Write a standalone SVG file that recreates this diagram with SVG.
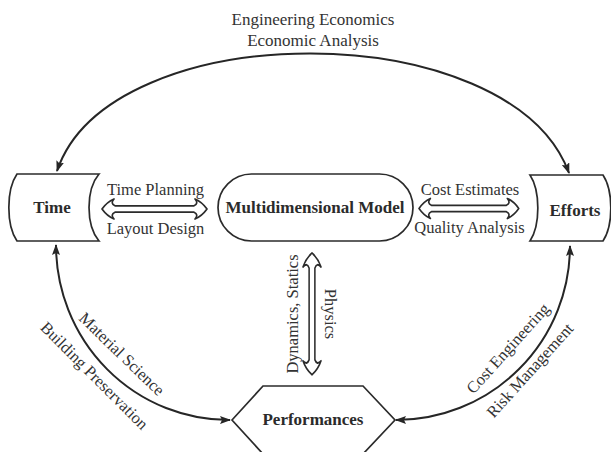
<svg xmlns="http://www.w3.org/2000/svg" width="611" height="452" viewBox="0 0 611 452">
  <style>
    .node { fill: #fff; stroke: #2b2b2b; stroke-width: 1.7; }
    .link { fill: none; stroke: #262626; stroke-width: 2; }
    .block { fill: #fff; stroke: #2b2b2b; stroke-width: 1.7; stroke-linejoin: round; }
    .lbl { font-family: "Liberation Serif", "Times New Roman", serif; font-size: 16.5px; fill: #333; }
    .title { font-family: "Liberation Serif", "Times New Roman", serif; font-size: 17px; font-weight: bold; fill: #2b2b2b; text-anchor: middle; }
    .mid { text-anchor: middle; }
  </style>
  <defs>
    <marker id="head" viewBox="0 0 11 8" refX="10" refY="4" markerWidth="11" markerHeight="8" markerUnits="userSpaceOnUse" orient="auto-start-reverse">
      <path d="M0,0 L11,4 L0,8 L2,4 Z" fill="#262626"/>
    </marker>
    <!-- hollow double-headed block arrow, 105 long, centred on the x axis -->
    <path id="dbl" d="M0,0 Q5,-7 12,-10 Q8,-5.5 13,-3.2 L92,-3.2 Q97,-5.5 93,-10 Q100,-7 105,0 Q100,7 93,10 Q97,5.5 92,3.2 L13,3.2 Q8,5.5 12,10 Q5,7 0,0 Z"/>
  </defs>

  <!-- connectors -->
  <g id="connectors">
    <path class="link" d="M57,171 C110,14 510,14 569,173" marker-start="url(#head)" marker-end="url(#head)"/>
    <path class="link" d="M56,245 A173,175 0 0 0 230,420" marker-start="url(#head)" marker-end="url(#head)"/>
    <path class="link" d="M570,246 A174,174 0 0 1 396,420" marker-start="url(#head)" marker-end="url(#head)"/>
    <use href="#dbl" class="block" transform="translate(102,209)"/>
    <use href="#dbl" class="block" transform="translate(419,208.5) scale(0.95,1)"/>
    <use href="#dbl" class="block" transform="translate(312,253) rotate(90) scale(1.16,0.9)"/>
  </g>

  <!-- connector labels -->
  <g id="labels" class="lbl">
    <text class="mid" x="313" y="25" style="font-size:17px">Engineering Economics</text>
    <text class="mid" x="313" y="45.5" style="font-size:17px">Economic Analysis</text>
    <text class="mid" x="155.5" y="194.5">Time Planning</text>
    <text class="mid" x="155.5" y="234">Layout Design</text>
    <text class="mid" x="470" y="194.5">Cost Estimates</text>
    <text class="mid" x="469.5" y="233">Quality Analysis</text>
    <text class="mid" transform="translate(298,314) rotate(-90)">Dynamics, Statics</text>
    <text class="mid" transform="translate(324.5,314) rotate(90)">Physics</text>
    <text class="mid" transform="translate(118,358) rotate(44)">Material Science</text>
    <text class="mid" transform="translate(90.5,379.5) rotate(45)">Building Preservation</text>
    <text class="mid" transform="translate(512,352) rotate(-48)">Cost Engineering</text>
    <text class="mid" transform="translate(534,374) rotate(-48)">Risk Management</text>
  </g>

  <g id="time">
    <path class="node" d="M17,174 L99,174 A22,40 0 0 0 99,241 L17,241 A18,40 0 0 1 17,174 Z"/>
    <text class="title" x="52" y="213">Time</text>
  </g>

  <g id="efforts">
    <path class="node" d="M530,175 L603,175 A18,40 0 0 1 603,241 L530,241 A18,40 0 0 0 530,175 Z"/>
    <text class="title" x="575" y="216">Efforts</text>
  </g>

  <g id="model">
    <rect class="node" x="218" y="174" width="195" height="67" rx="33.5" ry="33.5"/>
    <text class="title" x="315" y="213">Multidimensional Model</text>
  </g>

  <g id="performances">
    <polygon class="node" points="232,420 263,386 363,386 395,420 363,454 263,454"/>
    <text class="title" x="313" y="425">Performances</text>
  </g>
</svg>
